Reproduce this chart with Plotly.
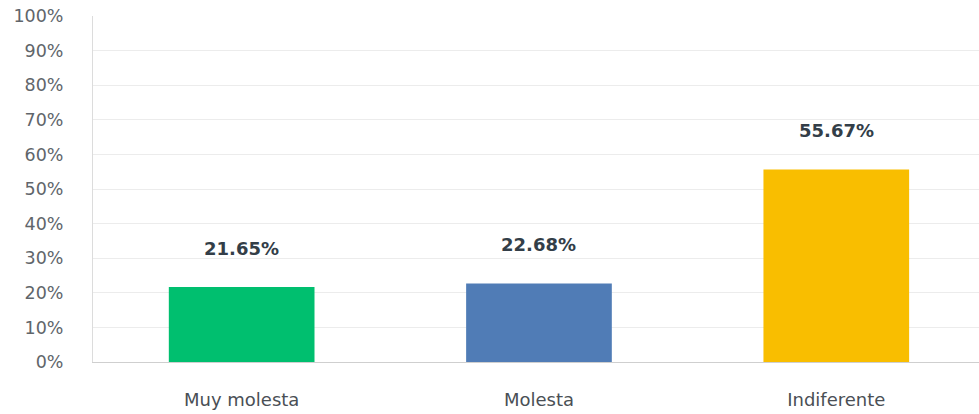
import plotly.graph_objects as go

categories = ["Muy molesta", "Molesta", "Indiferente"]
values = [21.65, 22.68, 55.67]
colors = ["#00bf6f", "#507cb6", "#f9be00"]
tick_vals = list(range(0, 101, 10))
tick_text = [f"{v}%" for v in tick_vals]

fig = go.Figure()
fig.add_trace(go.Bar(
    x=categories, y=values, marker=dict(color=colors, line=dict(width=0)),
    width=0.49, hoverinfo="skip",
))
for c, v in zip(categories, values):
    fig.add_annotation(x=c, y=v, text=f"{v:.2f}%", showarrow=False,
                       yshift=39, yanchor="middle",
                       font=dict(family="DejaVu Sans", size=18, color="#333e48",
                                 weight="bold"))

fig.update_layout(
    width=979, height=414,
    margin=dict(l=93, r=0, t=16, b=52),
    plot_bgcolor="white", paper_bgcolor="white",
    showlegend=False,
    font=dict(family="DejaVu Sans"),
)
fig.update_xaxes(
    range=[-0.5, 2.48], showline=True, linecolor="#cfcfcf", linewidth=1,
    ticks="", showgrid=False, ticklabelstandoff=21, automargin=False,
    tickfont=dict(size=18, color="#4a4f55"),
)
fig.update_yaxes(
    range=[0, 100], tickvals=tick_vals, ticktext=tick_text,
    showline=True, linecolor="#dcdcdc", linewidth=1,
    gridcolor="#ececec", gridwidth=1, zeroline=False, automargin=False,
    ticklabelstandoff=25, tickfont=dict(size=17.5, color="#60656a"),
)
fig.write_html("out.html", config={"displayModeBar": False},
               post_script="document.body.style.margin='0px';document.body.style.overflow='hidden';")
